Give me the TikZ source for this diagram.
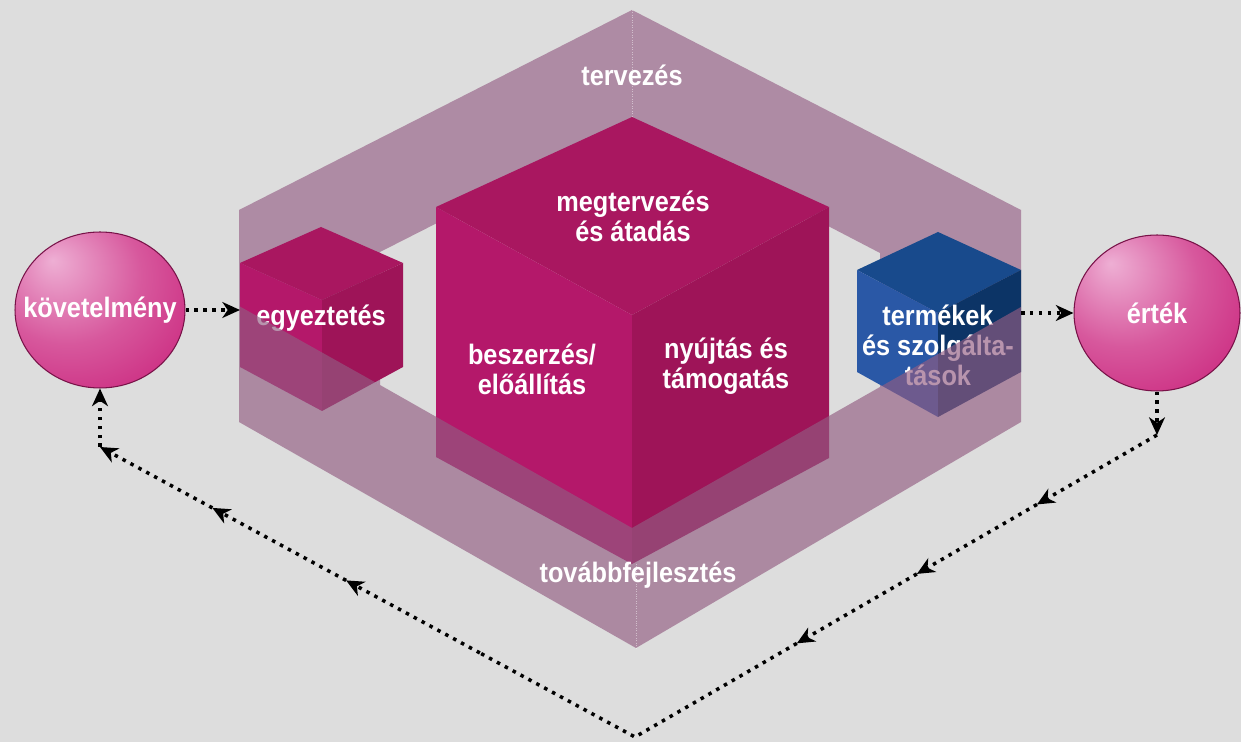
\documentclass[tikz,border=0pt]{standalone}
\usepackage{fontspec}
\setmainfont{Liberation Sans}
\newfontfamily\lblfont[FakeStretch=0.9]{Liberation Sans}
\usetikzlibrary{positioning,calc,shapes.geometric,arrows.meta}
\definecolor{bg}{RGB}{221,221,221}
\definecolor{frameC}{RGB}{174,139,164}
\definecolor{bandC}{RGB}{146,92,130}
\definecolor{magT}{RGB}{169,23,96}
\definecolor{magL}{RGB}{180,24,106}
\definecolor{magR}{RGB}{158,20,88}
\definecolor{bluT}{RGB}{24,74,140}
\definecolor{bluL}{RGB}{42,88,166}
\definecolor{bluR}{RGB}{12,52,102}
\definecolor{ballC}{RGB}{200,30,120}
\definecolor{ballH}{RGB}{238,175,212}
\pgfdeclareradialshading{btnshade}{\pgfpoint{-14bp}{16bp}}{color(0bp)=(ballH);
  color(22bp)=(ballH!40!ballC); color(45bp)=(ballC); color(64bp)=(ballC!85!black);
  color(72bp)=(ballC!60!black)}

\begin{document}
\begin{tikzpicture}[x=0.02cm,y=-0.02cm,
lbl/.style={text=white,font=\lblfont\bfseries\fontsize{16}{17}\selectfont,
  align=center,inner sep=0pt},
ball/.style={ellipse,shading=btnshade,draw=ballC!60!black,line width=0.6pt,
  minimum width=3.4cm,minimum height=3.12cm,inner sep=0pt},
flow/.style={line width=2pt,dash pattern=on 2pt off 3.1pt,
  -{Stealth[length=10pt,width=9pt,inset=3pt]}},
loop/.style={line width=2pt,dash pattern=on 2pt off 3.1pt},
edge line/.style={white,opacity=0.45,densely dotted,line width=0.4pt}
]
\path[use as bounding box,fill=bg] (0,0) rectangle (1241,742);

% frame, back part
\fill[frameC] (239,306) -- (239,210) -- (632,10) -- (1021,210) -- (1021,307)
  -- (880,387) -- (880,253) -- (632,124) -- (380,252) -- (380,385) -- cycle;
\draw[edge line] (632,10) -- (632,124);
\node[lbl] (Tplan) at (632,75) {tervezés};

% small cube
\fill[magT] (321,227) -- (403,263) -- (322,300) -- (240,263) -- cycle;
\fill[magL] (240,263) -- (322,300) -- (322,411) -- (240,367) -- cycle;
\fill[magR] (322,300) -- (403,263) -- (403,367) -- (322,411) -- cycle;
\node[lbl] (Tagree) at (321,318) {egyeztetés};

% big cube
\fill[magT] (632,117) -- (829,207) -- (632,315) -- (436,207) -- cycle;
\fill[magL] (436,207) -- (632,315) -- (632,564) -- (436,457) -- cycle;
\fill[magR] (632,315) -- (829,207) -- (829,458) -- (632,564) -- cycle;
\node[lbl] (Tdesign) at (633,216) {megtervezés\\és átadás};
\node[lbl] (Tbuild) at (532,369) {beszerzés/\\előállítás};
\node[lbl] (Tdeliver) at (726,366) {nyújtás és\\támogatás};

% blue cube
\fill[bluT] (938,232) -- (1021,270) -- (938,313) -- (857,270) -- cycle;
\fill[bluL] (857,270) -- (938,313) -- (938,417) -- (857,372) -- cycle;
\fill[bluR] (938,313) -- (1021,270) -- (1021,372) -- (938,417) -- cycle;
\node[lbl,text depth=0pt] (Tprod) at (938,345) {termékek\\és szolgálta-\\tások};

% frame, front part over the cubes
\fill[bandC,fill opacity=0.65] (239,306) -- (380,385) -- (632,528) -- (880,387)
  -- (1021,307) -- (1021,422) -- (636,648) -- (239,422) -- cycle;
\draw[edge line] (636,564) -- (636,648);
\node[lbl] (Tdev) at (638,575) {továbbfejlesztés};

% buttons
\node[ball] (Kreq) at (100,310) {};
\node[lbl] (Treq) at (Kreq) {követelmény};
\node[ball,minimum width=3.32cm] (Kval) at (1157,313) {};
\node[lbl] (Tval) at (Kval) {érték};

\coordinate (agreeW) at (240,310);
\coordinate (prodE) at (1021,313);
\coordinate (Rc) at (1157,435);
\coordinate (Bc) at (635,737);
\coordinate (Lc) at (100,447);

\draw[flow] (Kreq.east) -- (agreeW);
\draw[flow] (prodE) -- (Kval.west);
\draw[flow] (Kval.south) -- (Rc);
\foreach \a/\b in {0/0.23,0.23/0.46,0.46/0.69}
  \draw[flow] ($(Rc)!\a!(Bc)$) -- ($(Rc)!\b!(Bc)$);
\draw[loop] ($(Rc)!0.69!(Bc)$) -- (Bc) -- ($(Bc)!0.29!(Lc)$);
\foreach \a/\b in {0.29/0.54,0.54/0.79,0.79/1}
  \draw[flow] ($(Bc)!\a!(Lc)$) -- ($(Bc)!\b!(Lc)$);
\draw[flow] (Lc) -- (Kreq.south);
\end{tikzpicture}
\end{document}
